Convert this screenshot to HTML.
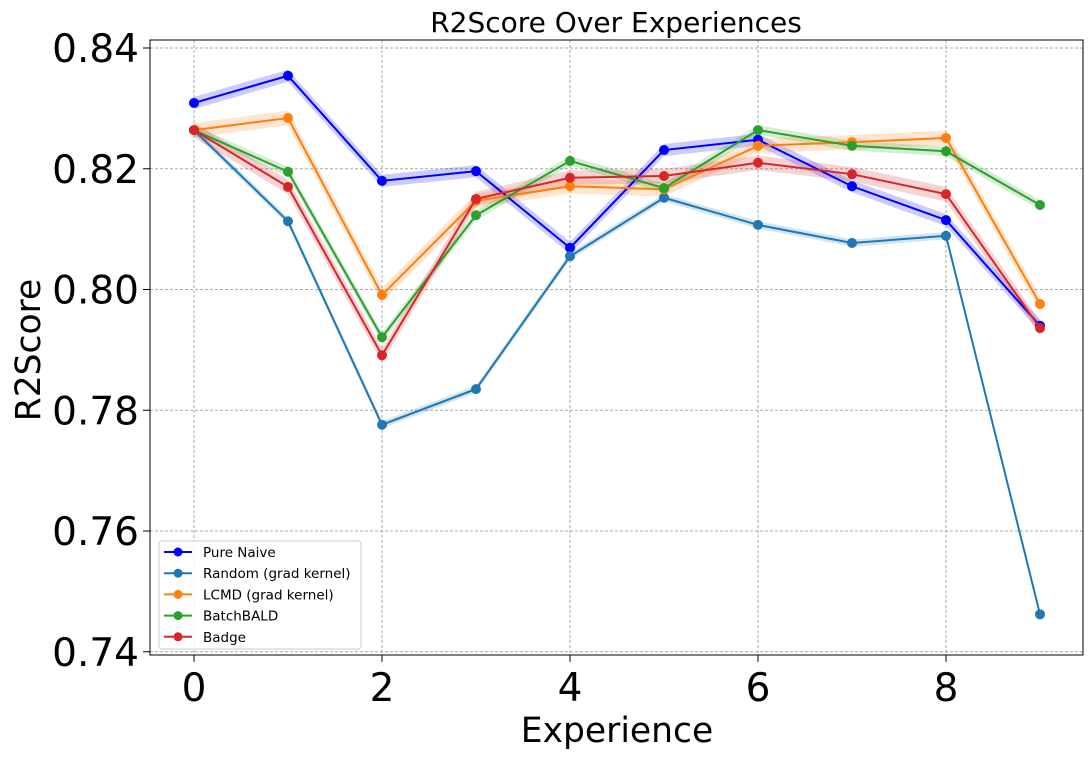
<!DOCTYPE html>
<html><head><meta charset="utf-8"><style>
body{margin:0;background:#fff;width:1092px;height:757px;overflow:hidden}
svg text{font-family:"DejaVu Sans","Liberation Sans",sans-serif}
</style></head><body>
<svg id="chart" width="1092" height="757" xmlns="http://www.w3.org/2000/svg">
<g id="grid"></g>
<g id="bands"></g>
<g id="lines"></g>
<rect x="150" y="40" width="933" height="615" fill="none" stroke="#000" stroke-width="1"/>
<g id="axes"></g>
<text x="616" y="32" font-size="28" text-anchor="middle">R2Score Over Experiences</text>
<text x="617" y="742" font-size="34.5" text-anchor="middle">Experience</text>
<text transform="translate(40,350) rotate(-90)" font-size="34.5" text-anchor="middle">R2Score</text>
<g id="legend"></g>
</svg>
<script>
const experiences=[0,1,2,3,4,5,6,7,8,9];
const seriesNames=["Pure Naive","Random (grad kernel)","LCMD (grad kernel)","BatchBALD","Badge"];
const seriesColors=["#0000ff","#1f77b4","#ff7f0e","#2ca02c","#d62728"];
const pureNaive=[0.8309,0.8354,0.8180,0.8196,0.8069,0.8231,0.8248,0.8171,0.8115,0.7940];
const randomGrad=[0.8264,0.8113,0.7776,0.7835,0.8055,0.8152,0.8107,0.8077,0.8089,0.7462];
const lcmdGrad=[0.8264,0.8284,0.7991,0.8147,0.8171,0.8166,0.8238,0.8244,0.8251,0.7976];
const batchBald=[0.8264,0.8195,0.7921,0.8123,0.8213,0.8168,0.8264,0.8238,0.8229,0.8140];
const badge=[0.8264,0.8170,0.7891,0.8150,0.8185,0.8188,0.8210,0.8191,0.8158,0.7936];
const bandHalf=[0.0010,0.0006,0.0012,0.0008,0.0012];
const yTicks=[0.74,0.76,0.78,0.80,0.82,0.84];
const yTickLabels=["0.74","0.76","0.78","0.80","0.82","0.84"];
const xTicks=[0,2,4,6,8];
const series=[pureNaive,randomGrad,lcmdGrad,batchBald,badge];
const X=v=>194+(v-0)*94;
const Y=v=>48+(0.84-v)*6037.5;
const NS="http://www.w3.org/2000/svg";
function mk(t,a,p){const e=document.createElementNS(NS,t);for(const k in a)e.setAttribute(k,a[k]);p.appendChild(e);return e;}
const grid=document.getElementById('grid'),axes=document.getElementById('axes');
yTicks.forEach((t,i)=>{
 const g=mk('line',{x1:150,x2:1083,y1:Y(t),y2:Y(t),stroke:'#aaa','stroke-dasharray':'3,2','stroke-width':1},grid);
 
 const tk=mk('line',{x1:143,x2:150,y1:Y(t),y2:Y(t),stroke:'#000'},axes);
 
 const tx=mk('text',{x:139,y:Y(t)+14,'font-size':39,'text-anchor':'end'},axes);tx.textContent=yTickLabels[i];
 
});
xTicks.forEach(t=>{
 const g=mk('line',{x1:X(t),x2:X(t),y1:40,y2:655,stroke:'#aaa','stroke-dasharray':'3,2','stroke-width':1},grid);
 
 const tk=mk('line',{x1:X(t),x2:X(t),y1:655,y2:662,stroke:'#000'},axes);
 
 const tx=mk('text',{x:X(t),y:701,'font-size':39,'text-anchor':'middle'},axes);tx.textContent=t;
 
});
const bands=document.getElementById('bands'),lines=document.getElementById('lines');
series.forEach((s,si)=>{
 const c=seriesColors[si],h=bandHalf[si];
 const up=experiences.map((x,i)=>X(x)+','+Y(s[i]+h)),dn=experiences.map((x,i)=>X(x)+','+Y(s[i]-h)).reverse();
 const b=mk('polygon',{points:up.concat(dn).join(' '),fill:c,'fill-opacity':0.2},bands);
 
 const l=mk('polyline',{points:experiences.map((x,i)=>X(x)+','+Y(s[i])).join(' '),fill:'none',stroke:c,'stroke-width':2},lines);
 
 experiences.forEach((x,i)=>{const p=mk('circle',{cx:X(x),cy:Y(s[i]),r:5,fill:c},lines);
  });
});
const lg=document.getElementById('legend');
const box=mk('rect',{x:159,y:541,width:202,height:108,rx:3,fill:'#fff','fill-opacity':0.8,stroke:'#ccc'},lg);

seriesNames.forEach((n,i)=>{const y=552+i*21.2;
 const e=mk('g',{},lg);
 mk('line',{x1:164,x2:192,y1:y,y2:y,stroke:seriesColors[i],'stroke-width':2},e);
 mk('circle',{cx:178,cy:y,r:4.5,fill:seriesColors[i]},e);
 const t=mk('text',{x:203,y:y+5,'font-size':13.5},e);t.textContent=n;});
</script>
</body></html>
